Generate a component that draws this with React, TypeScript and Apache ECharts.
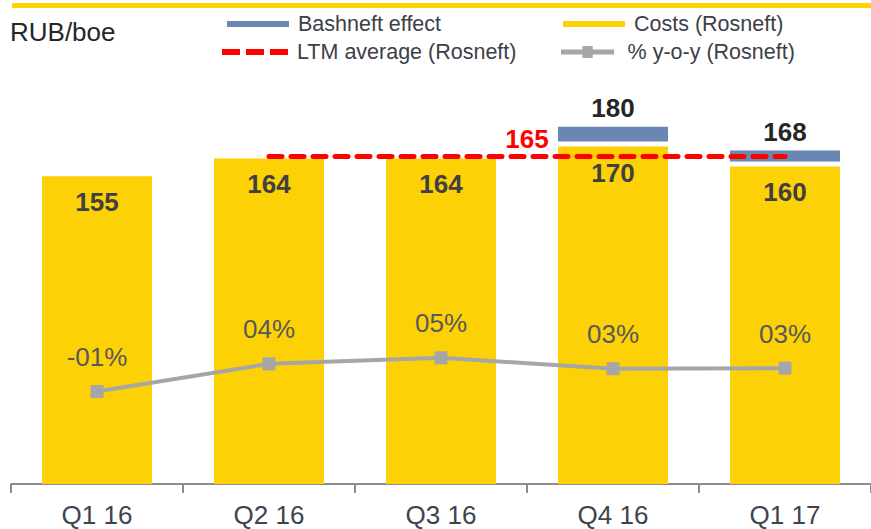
import React, { useEffect, useRef } from "react";
import * as echarts from "echarts";

const categories = ["Q1 16", "Q2 16", "Q3 16", "Q4 16", "Q1 17"];
const costsRosneft = [155, 164, 164, 170, 160];
const totalWithBashneft: (number | null)[] = [null, null, null, 180, 168];
const ltmAverage: (number | null)[] = [null, 165, 165, 165, 165];
const yoyPercent = [-1, 4.1, 5.2, 3.2, 3.3];

const FONT = "'Liberation Sans', Arial, Helvetica, sans-serif";
const GAP = 2.5; // visual white gap between costs bar and Bashneft bar (value units)

const DASH_ICON = "path://M0,0H18V6H0Z M24,0H42V6H24Z M48,0H66V6H48Z";
const LINE_MARK_ICON = "path://M0,4H62V10H0Z M25,0H37V14H25Z";

export default function App() {
  const ref = useRef<HTMLDivElement>(null);

  useEffect(() => {
    document.body.style.margin = "0";
    if (!ref.current) return;
    const chart = echarts.init(ref.current, null, { renderer: "svg" });

    const gapData = totalWithBashneft.map((t) => (t == null ? null : GAP));
    const bashData = totalWithBashneft.map((t, i) =>
      t == null ? null : t - costsRosneft[i] - GAP
    );

    const legendCommon = {
      orient: "horizontal" as const,
      itemWidth: 62,
      itemGap: 0,
      textStyle: { fontSize: 21.5, color: "#3c4048", fontFamily: FONT, padding: [0, 0, 0, 4] },
      selectedMode: false,
    };

    chart.setOption({
      animation: false,
      textStyle: { fontFamily: FONT },
      graphic: [
        { type: "rect", shape: { x: 12, y: 3, width: 859, height: 5 }, style: { fill: "#FFD200" } },
        {
          type: "text",
          left: 10,
          top: 19,
          style: { text: "RUB/boe", fontSize: 26, fill: "#262626", fontFamily: FONT },
        },
      ],
      legend: [
        { ...legendCommon, left: 222, top: 8, itemHeight: 6, data: [{ name: "Bashneft effect", icon: "rect" }] },
        { ...legendCommon, left: 217, top: 36, itemWidth: 66, itemHeight: 6, data: [{ name: "LTM average (Rosneft)", icon: DASH_ICON, itemStyle: { color: "#FF0000" } }] },
        { ...legendCommon, left: 558, top: 8, itemHeight: 6, data: [{ name: "Costs (Rosneft)", icon: "rect" }] },
        { ...legendCommon, left: 556, top: 36, itemHeight: 12, data: [{ name: "% y-o-y (Rosneft)", icon: LINE_MARK_ICON, itemStyle: { color: "#A6A6A6" } }] },
      ],
      grid: { left: 11, top: 87, width: 870, height: 397, containLabel: false },
      xAxis: {
        type: "category",
        data: categories,
        axisLine: { lineStyle: { color: "#8c8c8c", width: 2 } },
        axisTick: { show: true, length: 9, lineStyle: { color: "#8c8c8c", width: 2 } },
        axisLabel: { fontSize: 26, lineHeight: 26, color: "#3d4450", margin: 18, fontFamily: FONT },
      },
      yAxis: [
        { type: "value", min: 0, max: 200, show: false, splitLine: { show: false } },
        { type: "value", min: -18, max: 55, show: false, splitLine: { show: false } },
      ],
      series: [
        {
          name: "Costs (Rosneft)",
          type: "bar",
          stack: "a",
          barWidth: 110,
          data: costsRosneft,
          itemStyle: { color: "#FCD106" },
          label: {
            show: true,
            position: "insideTop",
            distance: 13,
            fontSize: 26,
            fontWeight: "bold",
            color: "#404040",
            fontFamily: FONT,
          },
          z: 2,
        },
        {
          name: "gap",
          type: "bar",
          stack: "a",
          barWidth: 110,
          data: gapData,
          itemStyle: { color: "rgba(0,0,0,0)" },
          silent: true,
          z: 2,
        },
        {
          name: "Bashneft effect",
          type: "bar",
          stack: "a",
          barWidth: 110,
          data: bashData,
          itemStyle: { color: "#6A86B2" },
          label: {
            show: true,
            position: "top",
            distance: 6,
            fontSize: 26,
            fontWeight: "bold",
            color: "#262626",
            fontFamily: FONT,
            formatter: (p: any) => String(totalWithBashneft[p.dataIndex]),
          },
          z: 2,
        },
        {
          name: "LTM average (Rosneft)",
          type: "line",
          data: ltmAverage,
          symbol: "none",
          lineStyle: { color: "#FF0000", width: 5, type: [13, 9], cap: "round" },
          itemStyle: { color: "#FF0000" },
          z: 5,
          markLine: {
            silent: true,
            symbol: ["none", "none"],
            lineStyle: { color: "rgba(0,0,0,0)", width: 0 },
            label: {
              show: true,
              position: "middle",
              distance: 4,
              fontSize: 26,
              fontWeight: "bold",
              color: "#FF0000",
              fontFamily: FONT,
              formatter: () => String(ltmAverage[1]),
            },
            data: [[{ coord: [1, ltmAverage[1]] }, { coord: [4, ltmAverage[4]] }]],
          },
        },
        {
          name: "% y-o-y (Rosneft)",
          type: "line",
          yAxisIndex: 1,
          data: yoyPercent,
          symbol: "rect",
          symbolSize: 13,
          lineStyle: { color: "#A6A6A6", width: 4 },
          itemStyle: { color: "#A6A6A6" },
          label: {
            show: true,
            position: "top",
            distance: 15,
            fontSize: 26,
            color: "#595959",
            fontFamily: FONT,
            formatter: (p: any) => {
              const v = Math.round(p.value);
              const s = String(Math.abs(v)).padStart(2, "0");
              return (v < 0 ? "-" : "") + s + "%";
            },
          },
          z: 4,
        },
      ],
    });

    return () => chart.dispose();
  }, []);

  return <div ref={ref} style={{ width: 871, height: 529 }} />;
}
